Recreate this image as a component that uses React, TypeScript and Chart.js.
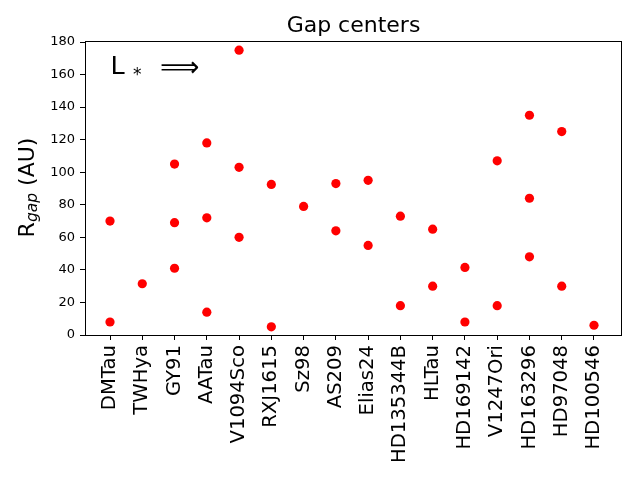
import { useEffect, useRef } from "react";
import { Chart, registerables } from "chart.js";

Chart.register(...registerables);

const categories = [
  "DMTau", "TWHya", "GY91", "AATau", "V1094Sco", "RXJ1615", "Sz98", "AS209",
  "Elias24", "HD135344B", "HLTau", "HD169142", "V1247Ori", "HD163296", "HD97048", "HD100546",
];

// gap radii (AU) for each disk, in category order
const gapCenters: number[][] = [
  [70, 8],
  [31.5],
  [105, 69, 41],
  [118, 72, 14],
  [175, 103, 60],
  [92.5, 5],
  [79],
  [93, 64],
  [95, 55],
  [73, 18],
  [65, 30],
  [41.5, 8],
  [107, 18],
  [135, 84, 48],
  [125, 30],
  [6],
];

const titleText = "Gap centers";
const yLabelMain = "R";
const yLabelSub = "gap";
const yLabelRest = " (AU)";
const annotationMain = "L";
const annotationSub = "*";
const annotationArrow = "⟹";

const FONT = "'DejaVu Sans', sans-serif";

export default function App() {
  const canvasRef = useRef<HTMLCanvasElement | null>(null);

  useEffect(() => {
    const canvas = canvasRef.current;
    if (!canvas) return;

    const points: { x: number; y: number }[] = [];
    gapCenters.forEach((vals, i) => vals.forEach((v) => points.push({ x: i, y: v })));

    const decor = {
      id: "decor",
      afterDraw(chart: any) {
        const ctx = chart.ctx as CanvasRenderingContext2D;
        const a = chart.chartArea;
        ctx.save();
        // frame
        ctx.strokeStyle = "#000";
        ctx.lineWidth = 1;
        const l = Math.round(a.left) + 0.5;
        const t = Math.round(a.top) - 0.5;
        const r = Math.round(a.right) - 0.5;
        const b = Math.round(a.bottom) + 0.5;
        ctx.strokeRect(l, t, r - l, b - t);

        // title
        ctx.fillStyle = "#000";
        ctx.font = `22px ${FONT}`;
        ctx.textAlign = "center";
        ctx.textBaseline = "alphabetic";
        ctx.fillText(titleText, (a.left + a.right) / 2, 32);

        // y label with subscript
        ctx.textAlign = "left";
        const mainFont = `22px ${FONT}`;
        const subFont = `italic 15.5px ${FONT}`;
        ctx.font = mainFont;
        const wR = ctx.measureText(yLabelMain).width;
        const wRest = ctx.measureText(yLabelRest).width;
        ctx.font = subFont;
        const wSub = ctx.measureText(yLabelSub).width;
        const total = wR + wSub + wRest;
        ctx.translate(33.5, 187.5);
        ctx.rotate(-Math.PI / 2);
        let x = -total / 2;
        ctx.font = mainFont;
        ctx.fillText(yLabelMain, x, 0);
        x += wR;
        ctx.font = subFont;
        ctx.fillText(yLabelSub, x, 3.5);
        x += wSub;
        ctx.font = mainFont;
        ctx.fillText(yLabelRest, x, 0);
        ctx.setTransform(1, 0, 0, 1, 0, 0);

        // annotation L_* ⟹
        ctx.font = `25.5px ${FONT}`;
        ctx.fillText(annotationMain, 110.5, 73.5);
        ctx.font = `17px ${FONT}`;
        ctx.fillText(annotationSub, 133, 79.5);
        ctx.font = `27.5px ${FONT}`;
        ctx.fillText(annotationArrow, 160, 75.5);
        ctx.restore();
      },
    };

    const chart = new Chart(canvas, {
      type: "scatter",
      data: {
        datasets: [
          {
            data: points,
            backgroundColor: "#ff0000",
            borderWidth: 0,
            pointRadius: 4.6,
            pointHoverRadius: 4.6,
          },
        ],
      },
      options: {
        responsive: false,
        animation: false,
        events: [],
        layout: { padding: { top: 42, right: 18, left: 0, bottom: 0 } },
        plugins: {
          legend: { display: false },
          tooltip: { enabled: false },
          title: { display: false },
        },
        scales: {
          x: {
            type: "linear",
            min: -0.775,
            max: 15.868,
            afterBuildTicks: (scale: any) => {
              scale.ticks = categories.map((_, i) => ({ value: i }));
            },
            afterFit: (scale: any) => {
              scale.height = 145;
            },
            border: { display: false },
            grid: {
              display: true,
              drawOnChartArea: false,
              drawTicks: true,
              tickLength: 5,
              color: "#000",
              lineWidth: 1,
            },
            ticks: {
              autoSkip: false,
              minRotation: 90,
              maxRotation: 90,
              padding: 5,
              color: "#000",
              font: { family: FONT, size: 19.6 },
              callback: (v: any) => categories[Math.round(Number(v))] ?? "",
            },
          },
          y: {
            min: 0,
            max: 180,
            afterFit: (scale: any) => {
              scale.width = 85;
            },
            border: { display: false },
            grid: {
              display: true,
              drawOnChartArea: false,
              drawTicks: true,
              tickLength: 5,
              color: "#000",
              lineWidth: 1,
            },
            ticks: {
              stepSize: 20,
              padding: 5,
              color: "#000",
              font: { family: FONT, size: 13 },
            },
          },
        },
      },
      plugins: [decor],
    });

    return () => chart.destroy();
  }, []);

  return (
    <div style={{ position: "absolute", left: 0, top: 0, width: 640, height: 480, background: "#fff" }}>
      <canvas ref={canvasRef} width={640} height={480} />
    </div>
  );
}
